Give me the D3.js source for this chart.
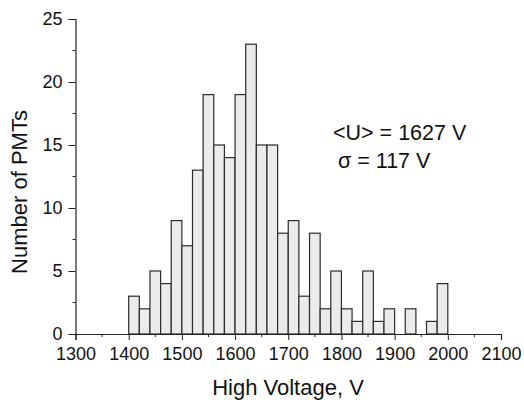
<!DOCTYPE html>
<html><head><meta charset="utf-8">
<script src="https://cdn.jsdelivr.net/npm/d3@7"></script>
<style>body{margin:0;background:#fff}svg{display:block}text{font-family:"Liberation Sans",Arial,sans-serif;fill:#111}</style>
</head><body>
<svg id="c" width="524" height="400"></svg>
<script>
const binStarts = [1400,1420,1440,1460,1480,1500,1520,1540,1560,1580,1600,1620,1640,1660,1680,1700,1720,1740,1760,1780,1800,1820,1840,1860,1880,1900,1920,1940,1960,1980];
const counts    = [3,2,5,4,9,7,13,19,15,14,19,23,15,15,8,9,3,8,2,5,2,1,5,1,2,0,2,0,1,4];
const binWidth = 20;
const xTicks = [1300,1400,1500,1600,1700,1800,1900,2000,2100];
const yTicks = [0,5,10,15,20,25];
const xMinor = [1350,1450,1550,1650,1750,1850,1950,2050];
const yMinor = [2.5,7.5,12.5,17.5,22.5];
const annot = ["<U> = 1627 V", "\u03C3 = 117 V"];

const svg = d3.select("#c");
const x = d3.scaleLinear().domain([1300,2100]).range([75.5,501]);
const y = d3.scaleLinear().domain([0,25]).range([334,19]);

// bars
svg.append("g").selectAll("rect").data(binStarts.map((s,i)=>({s,c:counts[i]})).filter(d=>d.c>0))
 .join("rect")
 .attr("x", d=>x(d.s)).attr("width", d=>x(d.s+binWidth)-x(d.s))
 .attr("y", d=>y(d.c)).attr("height", d=>y(0)-y(d.c))
 .attr("fill","#ebebeb").attr("stroke","#2b2b2b").attr("stroke-width",1.2);

// axes
const xAxis = d3.axisBottom(x).tickValues(xTicks).tickFormat(d3.format("d")).tickSize(6).tickPadding(7);
const gx = svg.append("g").attr("transform",`translate(0,${y(0)})`).call(xAxis);
gx.selectAll("text").attr("font-size",18);
gx.append("g").selectAll("line").data(xMinor).join("line")
  .attr("x1",d=>x(d)).attr("x2",d=>x(d)).attr("y1",0).attr("y2",3).attr("stroke","#222");

const yAxis = d3.axisLeft(y).tickValues(yTicks).tickSize(7).tickPadding(6);
const gy = svg.append("g").attr("transform",`translate(${x(1300)},0)`).call(yAxis);
gy.selectAll("text").attr("font-size",18);
gy.append("g").selectAll("line").data(yMinor).join("line")
  .attr("y1",d=>y(d)).attr("y2",d=>y(d)).attr("x1",0).attr("x2",-3).attr("stroke","#222");

svg.selectAll(".domain").attr("stroke","#222").attr("stroke-width",1.2);
svg.selectAll(".tick line").attr("stroke","#222");

svg.append("text").attr("x",288).attr("y",395).attr("text-anchor","middle").attr("font-size",22).text("High Voltage, V");
svg.append("text").attr("transform","translate(27,192) rotate(-90)").attr("text-anchor","middle").attr("font-size",22).text("Number of PMTs");

svg.append("text").attr("x",333).attr("y",140).attr("font-size",21.5).text(annot[0]);
svg.append("text").attr("x",338).attr("y",168).attr("font-size",21.5).text(annot[1]);
</script>
</body></html>
